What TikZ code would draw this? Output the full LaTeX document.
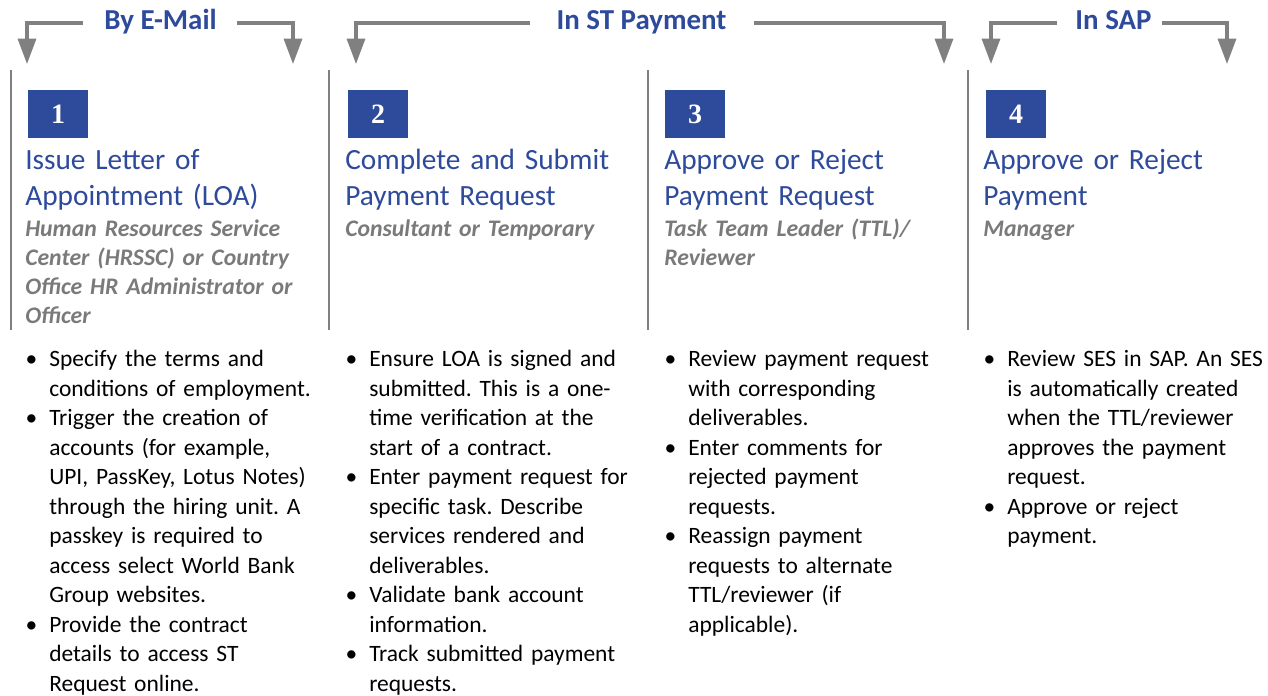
\documentclass[tikz,border=0pt]{standalone}
\usepackage{fontspec}
\setmainfont{Carlito}
\newfontfamily\numfont{Liberation Serif}
\usetikzlibrary{arrows.meta}
\definecolor{stepblue}{RGB}{46,74,155}
\definecolor{stepgray}{RGB}{128,128,128}
\definecolor{rolegray}{RGB}{122,122,122}
\frenchspacing
\newenvironment{steplist}{\begin{list}{\textbullet}{\setlength\leftmargin{18pt}\setlength\labelwidth{9pt}\setlength\labelsep{9pt}\setlength\itemsep{0pt}\setlength\topsep{0pt}\setlength\parsep{0pt}\setlength\partopsep{0pt}\setlength\itemindent{0pt}}}{\end{list}}

\begin{document}
\begin{tikzpicture}[x=0.75pt,y=-0.75pt,
  hdr/.style={anchor=base,inner sep=0pt,text=stepblue,font=\fontsize{21.7}{26}\selectfont\bfseries},
  hdrline/.style={draw=stepgray,line width=2.4pt,-{Triangle[length=19pt,width=13.5pt]}},
  sep/.style={draw=stepgray,line width=1.5pt},
  numbox/.style={fill=stepblue,text=white,minimum width=45pt,minimum height=36pt,inner sep=0pt,font=\numfont\fontsize{21}{24}\selectfont\bfseries},
  title/.style={anchor=base west,inner sep=0pt,text width=240pt,align=left,text=stepblue,font=\fontsize{22}{27}\selectfont},
  role/.style={anchor=base west,inner sep=0pt,text width=240pt,align=left,text=rolegray,font=\fontsize{17.8}{21.75}\selectfont\bfseries\itshape},
  tasks/.style={anchor=base west,inner sep=0pt,text width=240pt,align=left,font=\fontsize{17.6}{22.1}\selectfont}]
\useasboundingbox (0,0) rectangle (1268,696);

\node[hdr] (mail) at (160.5,30) {By E-Mail};
\node[hdr] (stpay) at (641.5,30) {In ST Payment};
\node[hdr] (sap) at (1113.5,30) {In SAP};

\coordinate (mailL) at (83,23);
\coordinate (mailLt) at (27,64);
\coordinate (mailR) at (237,23);
\coordinate (mailRt) at (293,64);
\coordinate (stpayL) at (530,23);
\coordinate (stpayLt) at (356,64);
\coordinate (stpayR) at (754,23);
\coordinate (stpayRt) at (944,64);
\coordinate (sapL) at (1057,23);
\coordinate (sapLt) at (991,64);
\coordinate (sapR) at (1162,23);
\coordinate (sapRt) at (1227,64);
\draw[hdrline] (mailL) -| (mailLt);
\draw[hdrline] (mailR) -| (mailRt);
\draw[hdrline] (stpayL) -| (stpayLt);
\draw[hdrline] (stpayR) -| (stpayRt);
\draw[hdrline] (sapL) -| (sapLt);
\draw[hdrline] (sapR) -| (sapRt);

\foreach \x in {11,329,648,968}
  \draw[sep] (\x,70) -- (\x,330);

\node[numbox] (n1) at (58,114) {1};
\node[numbox] (n2) at (378,114) {2};
\node[numbox] (n3) at (695,114) {3};
\node[numbox] (n4) at (1016,114) {4};

\node[title] (t1) at (25,169) {Issue Letter of\\Appointment (LOA)};
\node[title] (t2) at (345,169) {Complete and Submit\\Payment Request};
\node[title] (t3) at (664,169) {Approve or Reject\\Payment Request};
\node[title] (t4) at (983,169) {Approve or Reject\\Payment};

\node[role] (r1) at (25,236) {Human Resources Service\\Center (HRSSC) or Country\\Office HR Administrator or\\Officer};
\node[role] (r2) at (345,236) {Consultant or Temporary};
\node[role] (r3) at (664,236) {Task Team Leader (TTL)/\\Reviewer};
\node[role] (r4) at (983,236) {Manager};

\node[tasks] (k1) at (25,337.5) {\begin{steplist}
\item Specify the terms and\\conditions of employment.
\item Trigger the creation of\\accounts (for example,\\UPI, PassKey, Lotus Notes)\\through the hiring unit. A\\passkey is required to\\access select World Bank\\Group websites.
\item Provide the contract\\details to access ST\\Request online.
\end{steplist}};
\node[tasks] (k2) at (345,337.5) {\begin{steplist}
\item Ensure LOA is signed and\\submitted. This is a one-\\time verification at the\\start of a contract.
\item Enter payment request for\\specific task. Describe\\services rendered and\\deliverables.
\item Validate bank account\\information.
\item Track submitted payment\\requests.
\end{steplist}};
\node[tasks] (k3) at (664,337.5) {\begin{steplist}
\item Review payment request\\with corresponding\\deliverables.
\item Enter comments for\\rejected payment\\requests.
\item Reassign payment\\requests to alternate\\TTL/reviewer (if\\applicable).
\end{steplist}};
\node[tasks] (k4) at (983,337.5) {\begin{steplist}
\item Review SES in SAP. An SES\\is automatically created\\when the TTL/reviewer\\approves the payment\\request.
\item Approve or reject\\payment.
\end{steplist}};
\end{tikzpicture}
\end{document}
